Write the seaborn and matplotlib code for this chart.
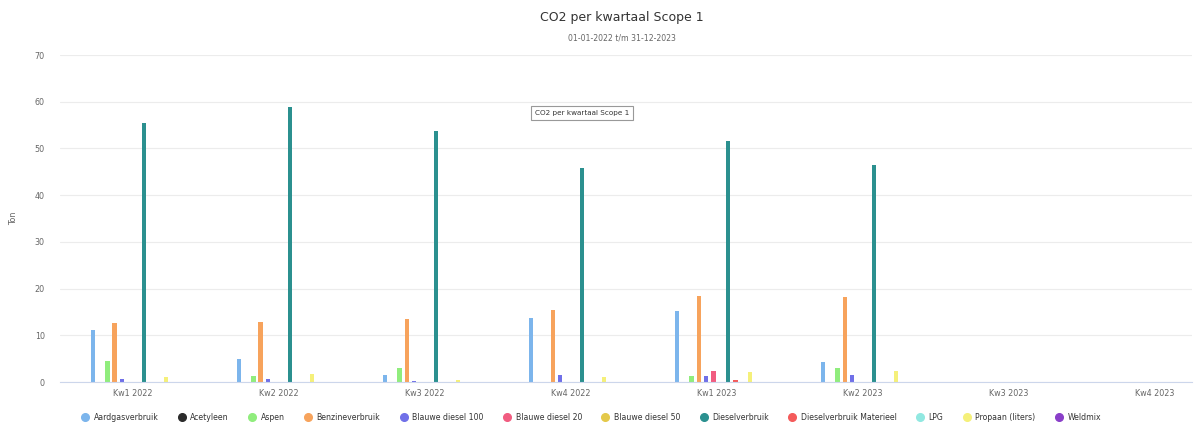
import pandas as pd
import matplotlib
matplotlib.use('Agg')
import matplotlib.pyplot as plt
from matplotlib.lines import Line2D
import seaborn as sns

# --- DATA ---
kwartalen = ["Kw1 2022", "Kw2 2022", "Kw3 2022", "Kw4 2022",
             "Kw1 2023", "Kw2 2023", "Kw3 2023", "Kw4 2023"]

aardgasverbruik = [11.1, 4.9, 1.5, 13.8, 15.1, 4.2, 0, 0]
acetyleen = [0, 0, 0, 0, 0, 0, 0, 0]
aspen = [4.5, 1.3, 3.0, 0, 1.3, 2.9, 0, 0]
benzineverbruik = [12.6, 12.8, 13.5, 15.5, 18.4, 18.1, 0, 0]
blauwe_diesel_100 = [0.6, 0.6, 0.3, 1.5, 1.3, 1.4, 0, 0]
blauwe_diesel_20 = [0, 0, 0, 0, 2.3, 0, 0, 0]
blauwe_diesel_50 = [0, 0, 0, 0, 0, 0, 0, 0]
dieselverbruik = [55.5, 58.9, 53.8, 45.9, 51.6, 46.4, 0, 0]
dieselverbruik_materieel = [0, 0, 0, 0, 0.5, 0, 0, 0]
lpg = [0, 0, 0, 0, 0, 0, 0, 0]
propaan = [1.0, 1.7, 0.5, 1.1, 2.2, 2.3, 0, 0]
weldmix = [0, 0, 0, 0, 0, 0, 0, 0]

bronnen = ["Aardgasverbruik", "Acetyleen", "Aspen", "Benzineverbruik",
           "Blauwe diesel 100", "Blauwe diesel 20", "Blauwe diesel 50",
           "Dieselverbruik", "Dieselverbruik Materieel", "LPG",
           "Propaan (liters)", "Weldmix"]
waarden = [aardgasverbruik, acetyleen, aspen, benzineverbruik,
           blauwe_diesel_100, blauwe_diesel_20, blauwe_diesel_50,
           dieselverbruik, dieselverbruik_materieel, lpg, propaan, weldmix]
kleuren = ["#7cb5ec", "#2b2b2b", "#90ed7d", "#f7a35c", "#7070e8", "#f15c80",
           "#e4c94a", "#2b908f", "#f45b5b", "#91e8e1", "#f5f07a", "#8a3fc9"]

rows = []
for bron, vals in zip(bronnen, waarden):
    for kw, v in zip(kwartalen, vals):
        rows.append({"kwartaal": kw, "bron": bron, "ton": v})
df = pd.DataFrame(rows)

# --- PLOT ---
sns.set_style("white")
plt.rcParams['font.family'] = ['DejaVu Sans']

W, H = 1196, 429
fig = plt.figure(figsize=(W / 100, H / 100), dpi=100)
ax = fig.add_axes([60 / W, 47 / H, 1132 / W, 327 / H])

sns.barplot(data=df, x="kwartaal", y="ton", hue="bron", hue_order=bronnen,
            order=kwartalen, palette=kleuren, width=0.6, gap=0.38,
            saturation=1, errorbar=None, linewidth=0, legend=False, ax=ax)

ax.set_xlim(-0.5, 7.253)
ax.set_ylim(0, 70)
ax.set_yticks(range(0, 71, 10))
ax.yaxis.grid(True, color="#ececec", lw=0.8)
ax.set_axisbelow(True)
for s in ["top", "right", "left"]:
    ax.spines[s].set_visible(False)
ax.spines["bottom"].set_color("#ccd6eb")
ax.spines["bottom"].set_linewidth(0.8)
ax.tick_params(axis="y", length=0, pad=11, labelsize=5.8, labelcolor="#666666")
ax.tick_params(axis="x", length=0, pad=5, labelsize=5.8, labelcolor="#666666")
ax.set_xlabel("")
ax.set_ylabel("Ton", fontsize=5.8, color="#666666", labelpad=12)

fig.text(622 / W, 1 - 17 / H, "CO2 per kwartaal Scope 1", ha="center", va="center",
         fontsize=9, color="#333333")
fig.text(622 / W, 1 - 38 / H, "01-01-2022 t/m 31-12-2023", ha="center", va="center",
         fontsize=5.6, color="#666666")

# tooltip
fig.text(582 / W, 1 - 113 / H, "CO2 per kwartaal Scope 1", ha="center", va="center",
         fontsize=5.2, color="#333333",
         bbox=dict(boxstyle="square,pad=0.5", fc="white", ec="#999999", lw=0.8))

handles = [Line2D([0], [0], marker="o", color="none", markerfacecolor=c,
                  markeredgecolor=c, markersize=5.5, label=b)
           for b, c in zip(bronnen, kleuren)]
leg = fig.legend(handles=handles, loc="center", bbox_to_anchor=(591 / W, 1 - 417 / H),
                 ncol=12, frameon=False, fontsize=5.6, handletextpad=0.6,
                 columnspacing=2.5, handlelength=1.0)
for t in leg.get_texts():
    t.set_color("#333333")

fig.savefig("out.png", dpi=100)
